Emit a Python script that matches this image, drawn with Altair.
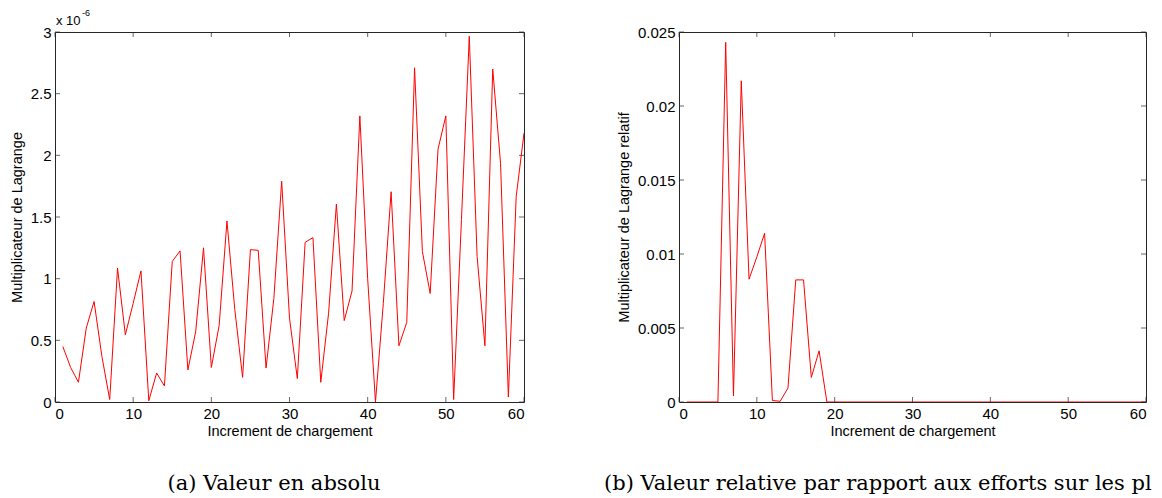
import altair as alt
import pandas as pd

# ---- data ----
increments = list(range(1, 61))
# (a) absolute Lagrange multiplier, in units of 1e-6
abs_vals = [0.45, 0.28, 0.16, 0.60, 0.815, 0.37, 0.02, 1.085, 0.545, 0.80,
            1.063, 0.01, 0.235, 0.13, 1.14, 1.225, 0.26, 0.57, 1.25, 0.28,
            0.62, 1.468, 0.75, 0.20, 1.235, 1.23, 0.275, 0.84, 1.79, 0.68,
            0.19, 1.295, 1.333, 0.16, 0.72, 1.605, 0.66, 0.90, 2.32, 1.0,
            0.0, 0.80, 1.705, 0.456, 0.645, 2.71, 1.22, 0.88, 2.05, 2.32,
            0.02, 1.48, 2.966, 1.18, 0.456, 2.70, 1.935, 0.04, 1.665, 2.18]
# (b) relative Lagrange multiplier
rel_vals = [0, 0, 0, 0, 0, 0.0243, 0.0004, 0.0217, 0.0083, 0.0098,
            0.0114, 0.0001, 0.00005, 0.00094, 0.00825, 0.00825, 0.00166, 0.00346, 0, 0,
            0, 0, 0, 0, 0, 0, 0, 0, 0, 0,
            0, 0, 0, 0, 0, 0, 0, 0, 0, 0,
            0, 0, 0, 0, 0, 0, 0, 0, 0, 0,
            0, 0, 0, 0, 0, 0, 0, 0, 0, 0]

x_ticks = [0, 10, 20, 30, 40, 50, 60]
y_ticks_a = [0, 0.5, 1, 1.5, 2, 2.5, 3]
y_ticks_b = [0, 0.005, 0.01, 0.015, 0.02, 0.025]

x_title = "Increment de chargement"
y_title_a = "Multiplicateur de Lagrange"
y_title_b = "Multiplicateur de Lagrange relatif"
exp_base = ["x 10"]
exp_power = ["-6"]
caption_a = ["(a) Valeur en absolu"]
caption_b = ["(b) Valeur relative par rapport aux efforts sur les pl"]

W_A, W_B, H = 469, 467, 370
BOX = "#262626"
TICK = 5
SANS = "Liberation Sans"
SERIF = "DejaVu Serif"


def panel(vals, ymax, yticks, ytitle, W, caption, cap_x, cap_align, extra=None):
    df = pd.DataFrame({"inc": increments, "val": vals})
    xs = alt.Scale(domain=[0, 60], nice=False, zero=False)
    ys = alt.Scale(domain=[0, ymax], nice=False)
    xaxis = alt.Axis(values=x_ticks, title=x_title, format="d",
                     labelPadding=4, titlePadding=3)
    yaxis = alt.Axis(values=yticks, title=ytitle, format="~g",
                     labelPadding=4, titlePadding=6)
    line = alt.Chart(df).mark_line(color="#ff0000", strokeWidth=1, clip=True).encode(
        x=alt.X("inc:Q", scale=xs, axis=xaxis),
        y=alt.Y("val:Q", scale=ys, axis=yaxis),
    )
    xt = pd.DataFrame({"inc": x_ticks})
    yt = pd.DataFrame({"val": yticks})
    tick_kw = dict(color=BOX, thickness=1, size=TICK)
    xb = alt.Chart(xt).mark_tick(orient="vertical", **tick_kw).encode(
        x=alt.X("inc:Q", scale=xs, axis=xaxis), y=alt.value(H - TICK / 2))
    xtp = alt.Chart(xt).mark_tick(orient="vertical", **tick_kw).encode(
        x=alt.X("inc:Q", scale=xs, axis=xaxis), y=alt.value(TICK / 2))
    yl = alt.Chart(yt).mark_tick(orient="horizontal", **tick_kw).encode(
        y=alt.Y("val:Q", scale=ys, axis=yaxis), x=alt.value(TICK / 2))
    yr = alt.Chart(yt).mark_tick(orient="horizontal", **tick_kw).encode(
        y=alt.Y("val:Q", scale=ys, axis=yaxis), x=alt.value(W - TICK / 2))
    cap = alt.Chart(pd.DataFrame({"s": caption})).mark_text(
        font=SERIF, fontSize=21, align=cap_align, baseline="middle", color="black"
    ).encode(text="s:N", x=alt.value(cap_x), y=alt.value(H + 82))
    layers = [line, xb, xtp, yl, yr, cap]
    if extra:
        layers += extra
    return alt.layer(*layers).properties(width=W, height=H)


exp_a = [
    alt.Chart(pd.DataFrame({"s": exp_base})).mark_text(
        font=SANS, fontSize=13, align="left", baseline="alphabetic", color="black"
    ).encode(text="s:N", x=alt.value(1), y=alt.value(-7)),
    alt.Chart(pd.DataFrame({"s": exp_power})).mark_text(
        font=SANS, fontSize=9, align="left", baseline="alphabetic", color="black"
    ).encode(text="s:N", x=alt.value(27), y=alt.value(-16)),
]

left = panel(abs_vals, 3, y_ticks_a, y_title_a, W_A, caption_a, 219, "center", exp_a)
right = panel(rel_vals, 0.025, y_ticks_b, y_title_b, W_B, caption_b, -75, "left")

chart = alt.hconcat(left, right, spacing=155, bounds="flush").properties(
    padding={"left": 0, "top": 0, "right": 0, "bottom": 0}
).configure_view(
    stroke=BOX, strokeWidth=1
).configure_axis(
    domain=False, ticks=False, grid=False,
    labelFont=SANS, labelFontSize=15, labelColor="black",
    titleFont=SANS, titleFontSize=14.5, titleFontWeight="normal", titleColor="black",
)

chart.save("out.html", embed_options={"renderer": "svg", "actions": False})
